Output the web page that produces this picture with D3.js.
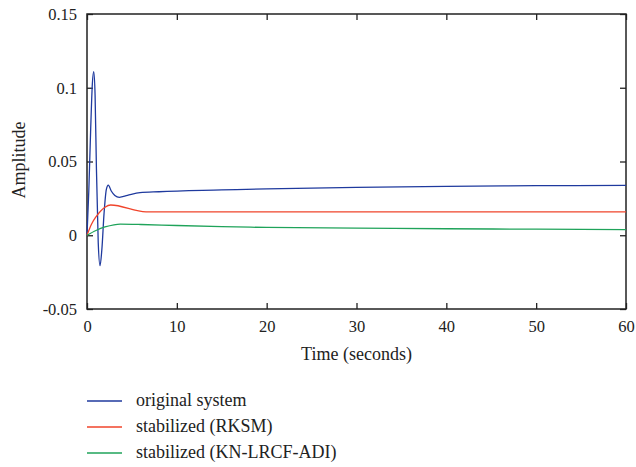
<!DOCTYPE html>
<html>
<head>
<meta charset="utf-8">
<script src="https://cdn.jsdelivr.net/npm/d3@7"></script>
<style>
  body { margin: 0; background: #fff; }
  text { font-family: "Liberation Serif", "Times New Roman", "DejaVu Serif", serif; fill: #222; }
</style>
</head>
<body>
<div class="chart"></div>
<script>
// DATA ------------------------------
const xTicks = [0, 10, 20, 30, 40, 50, 60]
const yTicks = [-0.05, 0, 0.05, 0.1, 0.15]
const yTickLabels = ["-0.05", "0", "0.05", "0.1", "0.15"]

const originalT = [0, 0.2, 0.4, 0.6, 0.75, 0.9, 1.05, 1.25, 1.45, 1.65, 1.9, 2.15, 2.37, 2.7, 3.1, 3.6, 4.5, 5.9, 8, 15, 20, 30, 40, 50, 60]
const originalV = [0, 0.03, 0.07, 0.103, 0.111, 0.095, 0.045, -0.005, -0.0206, -0.01, 0.015, 0.031, 0.034, 0.030, 0.027, 0.0257, 0.027, 0.0289, 0.0295, 0.0307, 0.0315, 0.0325, 0.0332, 0.0336, 0.0338]

const rksmT = [0, 0.5, 1, 1.5, 2, 2.64, 6.57, 10, 20, 30, 40, 50, 60]
const rksmV = [0, 0.0075, 0.0125, 0.0163, 0.0190, 0.0205, 0.0158, 0.0158, 0.0158, 0.0158, 0.0158, 0.0158, 0.0158]

const kntT = [0, 1, 2, 3, 3.7, 6, 10, 15, 20, 30, 40, 50, 60]
const kntV = [0, 0.0032, 0.0056, 0.0071, 0.0075, 0.0073, 0.0066, 0.0058, 0.0053, 0.0048, 0.0044, 0.0041, 0.0038]

const seriesNames = ["original system", "stabilized (RKSM)", "stabilized (KN-LRCF-ADI)"]
const seriesColors = ["#1f3a9e", "#f0442b", "#1fa35a"]

// MARGIN CONVENTION
const margin = ({top: 14, right: 10, bottom: 158, left: 87})
const width = 626 - margin.left,
  height = 309 - margin.top

const svg = d3
  .select(".chart")
  .append("svg")
  .attr("width", 636)
  .attr("height", 467)
  .append("g")
  .attr("transform", "translate(" + margin.left + "," + margin.top + ")")

let xScale = d3.scaleLinear().domain([0, 60]).range([0, width])
let yScale = d3.scaleLinear().domain([-0.05, 0.15]).range([height, 0])

// axes with inward ticks
const tick = 6
svg.append("g")
  .attr("transform", `translate(0,${height})`)
  .call(d3.axisBottom(xScale).tickValues(xTicks).tickSizeInner(-tick).tickSizeOuter(0).tickPadding(tick + 5))
  .call(g => g.select(".domain").remove())
svg.append("g")
  .call(d3.axisTop(xScale).tickValues(xTicks).tickSizeInner(-tick).tickSizeOuter(0).tickFormat(""))
  .call(g => g.select(".domain").remove())
svg.append("g")
  .call(d3.axisLeft(yScale).tickValues(yTicks).tickSizeInner(-tick).tickSizeOuter(0).tickPadding(tick + 4)
    .tickFormat((d, i) => yTickLabels[i]))
  .call(g => g.select(".domain").remove())
svg.append("g")
  .attr("transform", `translate(${width},0)`)
  .call(d3.axisRight(yScale).tickValues(yTicks).tickSizeInner(-tick).tickSizeOuter(0).tickFormat(""))
  .call(g => g.select(".domain").remove())

svg.selectAll(".tick line").attr("stroke", "#222").attr("stroke-width", 1.3)
svg.selectAll(".tick text")
  .style("font-family", '"Liberation Serif", "Times New Roman", serif')
  .style("font-size", "16.5px")
  .attr("fill", "#222")

// frame
svg.append("rect")
  .attr("width", width)
  .attr("height", height)
  .attr("fill", "none")
  .attr("stroke", "#222")
  .attr("stroke-width", 1.5)

// lines
const series = [
  originalT.map((t, i) => [t, originalV[i]]),
  rksmT.map((t, i) => [t, rksmV[i]]),
  kntT.map((t, i) => [t, kntV[i]])
]
series.forEach((s, i) => {
  const line = d3.line()
    .x(d => xScale(d[0]))
    .y(d => yScale(d[1]))
    .curve(d3.curveMonotoneX)
  svg.append("path")
    .datum(s)
    .attr("d", line)
    .attr("fill", "none")
    .attr("stroke", seriesColors[i])
    .attr("stroke-width", 1.3)
})

// axis titles
svg.append("text")
  .attr("x", width / 2)
  .attr("y", 360 - margin.top)
  .attr("text-anchor", "middle")
  .style("font-size", "18px")
  .text("Time (seconds)")
svg.append("text")
  .attr("transform", `translate(${25 - margin.left},${160 - margin.top}) rotate(-90)`)
  .attr("text-anchor", "middle")
  .style("font-size", "18px")
  .text("Amplitude")

// legend
const legend = svg.append("g").attr("transform", `translate(0,${401 - margin.top})`)
seriesNames.forEach((name, i) => {
  legend.append("line")
    .attr("x1", 0).attr("x2", 35)
    .attr("y1", i * 26).attr("y2", i * 26)
    .attr("stroke", seriesColors[i])
    .attr("stroke-width", 1.3)
  legend.append("text")
    .attr("x", 49)
    .attr("y", i * 26 + 5)
    .style("font-size", "18px")
    .text(name)
})
</script>
</body>
</html>
